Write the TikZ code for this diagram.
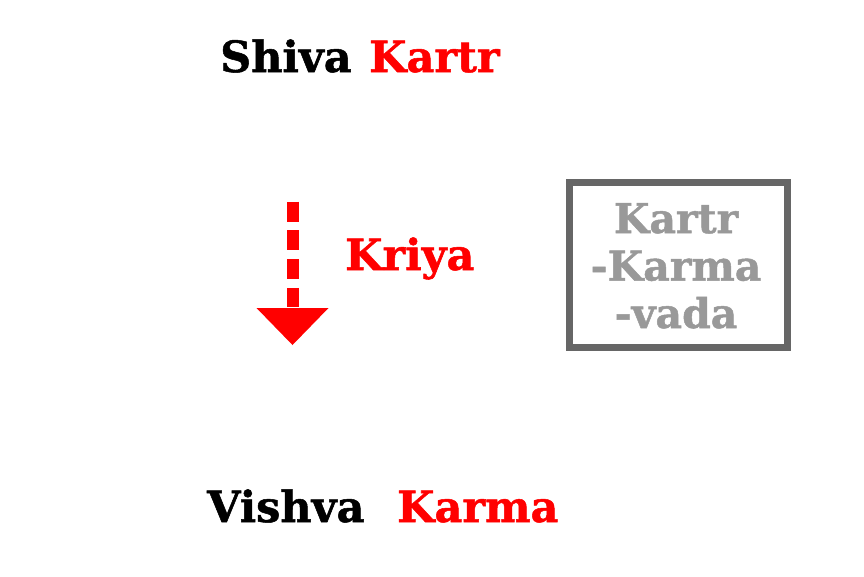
\documentclass[tikz,border=0pt]{standalone}
\usepackage{fontspec}
\setmainfont{DejaVu Serif}[BoldFeatures={FakeBold=1.2}]
\definecolor{kred}{RGB}{255,0,0}
\definecolor{boxgray}{RGB}{102,102,102}
\definecolor{txtgray}{RGB}{153,153,153}
\tikzset{
  lbl/.style={font=\fontsize{43}{46}\selectfont\bfseries, inner sep=0pt, anchor=base west},
  boxtxt/.style={font=\fontsize{41}{47.5}\selectfont\bfseries, text=txtgray, align=center, inner sep=0pt, anchor=base},
}
\begin{document}
\begin{tikzpicture}[x=1pt,y=-1pt]
\useasboundingbox (0,0) rectangle (864,576);
\node[lbl, text=black] (shiva) at (220,72) {Shiva};
\node[lbl, text=kred] (kartr) at (369,72) {Kartr};
\node[lbl, text=kred] (kriya) at (345,270) {Kriya};
\node[lbl, text=black] (vishva) at (207,522) {Vishva};
\node[lbl, text=kred] (karma) at (397,522) {Karma};
\coordinate (atop) at (292.5,201.5);
\coordinate (abase) at (292.5,308);
\coordinate (atip) at (292.5,345);
\draw[kred, line width=12pt, dash pattern=on 20pt off 8.8pt] (atop) -- ([yshift=1pt]abase);
\fill[kred] ([xshift=-36pt]abase) -- ([xshift=36pt]abase) -- (atip) -- cycle;
\draw[boxgray, line width=7pt] (569.5,182.5) rectangle (787.5,347.5);
\node[boxtxt] (kkv) at (676,328) {Kartr\\-Karma\\-vada};
\end{tikzpicture}
\end{document}
